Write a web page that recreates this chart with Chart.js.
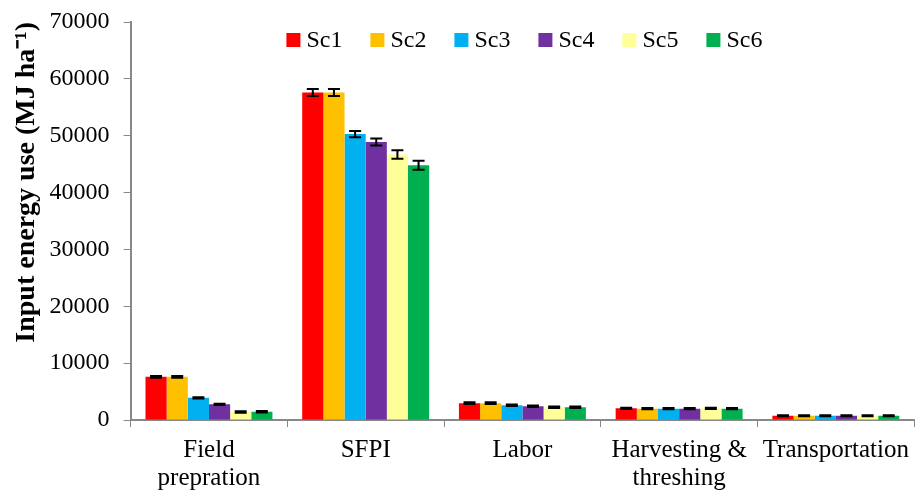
<!DOCTYPE html>
<html>
<head>
<meta charset="utf-8">
<script src="https://cdn.jsdelivr.net/npm/chart.js@4/dist/chart.umd.min.js"></script>
<style>
body{margin:0;background:#fff;}
#c{display:block;}
</style>
</head>
<body>
<canvas id="c" width="918" height="491"></canvas>
<script>
// categories + values
var categories=[['Field','prepration'],'SFPI','Labor',['Harvesting &','threshing'],'Transportation'];
var seriesNames=['Sc1','Sc2','Sc3','Sc4','Sc5','Sc6'];
var seriesColors=['#FF0000','#FFC000','#00B0F0','#7030A0','#FFFF99','#00B050'];

var sc1=[7600,57600,2950,2050,750];
var sc2=[7600,57600,2950,2000,750];
var sc3=[3900,50300,2600,2000,750];
var sc4=[2750,48900,2400,2000,750];
var sc5=[1400,46700,2250,2050,750];
var sc6=[1450,44800,2250,2000,750];

var err1=[150,600,150,120,100];
var err2=[150,600,150,120,100];
var err3=[120,550,130,120,100];
var err4=[120,600,130,120,100];
var err5=[120,750,120,120,100];
var err6=[120,800,120,120,100];

var yTicks=[0,10000,20000,30000,40000,50000,60000,70000];

var values=[sc1,sc2,sc3,sc4,sc5,sc6];
var errors=[err1,err2,err3,err4,err5,err6];

var font='"Liberation Serif","Times New Roman",serif';

// whiskers on top of each bar
var errorBars={
    id:'errorBars',
    afterDatasetsDraw:function(chart)
    {
        var ctx=chart.ctx, y=chart.scales.y;
        ctx.save();
        ctx.strokeStyle='#000';
        ctx.lineWidth=2;
        chart.data.datasets.forEach(function(ds,i){
            var meta=chart.getDatasetMeta(i);
            meta.data.forEach(function(bar,j){
                var v=ds.data[j], e=errors[i][j];
                var top=y.getPixelForValue(v+e), bot=y.getPixelForValue(v-e);
                ctx.beginPath();
                ctx.moveTo(bar.x,top); ctx.lineTo(bar.x,bot);
                ctx.moveTo(bar.x-6,top); ctx.lineTo(bar.x+6,top);
                ctx.moveTo(bar.x-6,bot); ctx.lineTo(bar.x+6,bot);
                ctx.stroke();
            });
        });
        ctx.restore();
    }
};

// one-row legend drawn inside the plot, near its top
var insideLegend={
    id:'insideLegend',
    afterDraw:function(chart)
    {
        var ctx=chart.ctx, a=chart.chartArea, gap=28, box=14, yc=40;
        ctx.save();
        ctx.font='24px '+font;
        var items=chart.data.datasets.map(function(ds){
            return { t:ds.label, c:ds.backgroundColor, w:box+6+ctx.measureText(ds.label).width };
        });
        var total=items.reduce(function(s,it){ return s+it.w; },0)+gap*(items.length-1);
        var x=(a.left+a.right)/2-total/2+2;
        ctx.textBaseline='middle';
        ctx.textAlign='left';
        items.forEach(function(it){
            ctx.fillStyle=it.c;
            ctx.fillRect(x,yc-box/2,box,box);
            ctx.fillStyle='#000';
            ctx.fillText(it.t,x+box+6,yc+1);
            x+=it.w+gap;
        });
        ctx.restore();
    }
};

var datasets=seriesNames.map(function(n,i){
    return { label:n, data:values[i], backgroundColor:seriesColors[i], borderWidth:0,
             categoryPercentage:0.81, barPercentage:1.0 };
});

new Chart(document.getElementById('c'),{
    type:'bar',
    data:{ labels:categories, datasets:datasets },
    plugins:[errorBars,insideLegend],
    options:{
        responsive:false,
        animation:false,
        layout:{ padding:{ top:0, right:0, left:2, bottom:0 } },
        plugins:{
            legend:{ display:false },
            tooltip:{ enabled:false }
        },
        scales:{
            x:{
                grid:{ offset:true, drawOnChartArea:false, drawTicks:true, tickLength:7, color:'#888' },
                border:{ color:'#888', width:2 },
                ticks:{ color:'#000', maxRotation:0, autoSkip:false, padding:9,
                        font:{ family:font, size:25, lineHeight:1.12 } },
                afterFit:function(s){ s.height-=10; }
            },
            y:{
                min:0, max:70000,
                afterBuildTicks:function(s){ s.ticks=yTicks.map(function(v){ return {value:v}; }); },
                afterFit:function(s){ s.paddingTop=22; },
                grid:{ drawOnChartArea:false, drawTicks:true, tickLength:7, color:'#888' },
                border:{ color:'#888', width:2 },
                ticks:{ color:'#000', padding:14, font:{ family:font, size:24 },
                        callback:function(v){ return String(v); } },
                title:{ display:true, align:'end', text:'Input energy use (MJ ha\u207B\u00B9)', color:'#000',
                        padding:{ top:8, bottom:-8 },
                        font:{ family:font, size:28, weight:'bold' } }
            }
        }
    }
});
</script>
</body>
</html>
